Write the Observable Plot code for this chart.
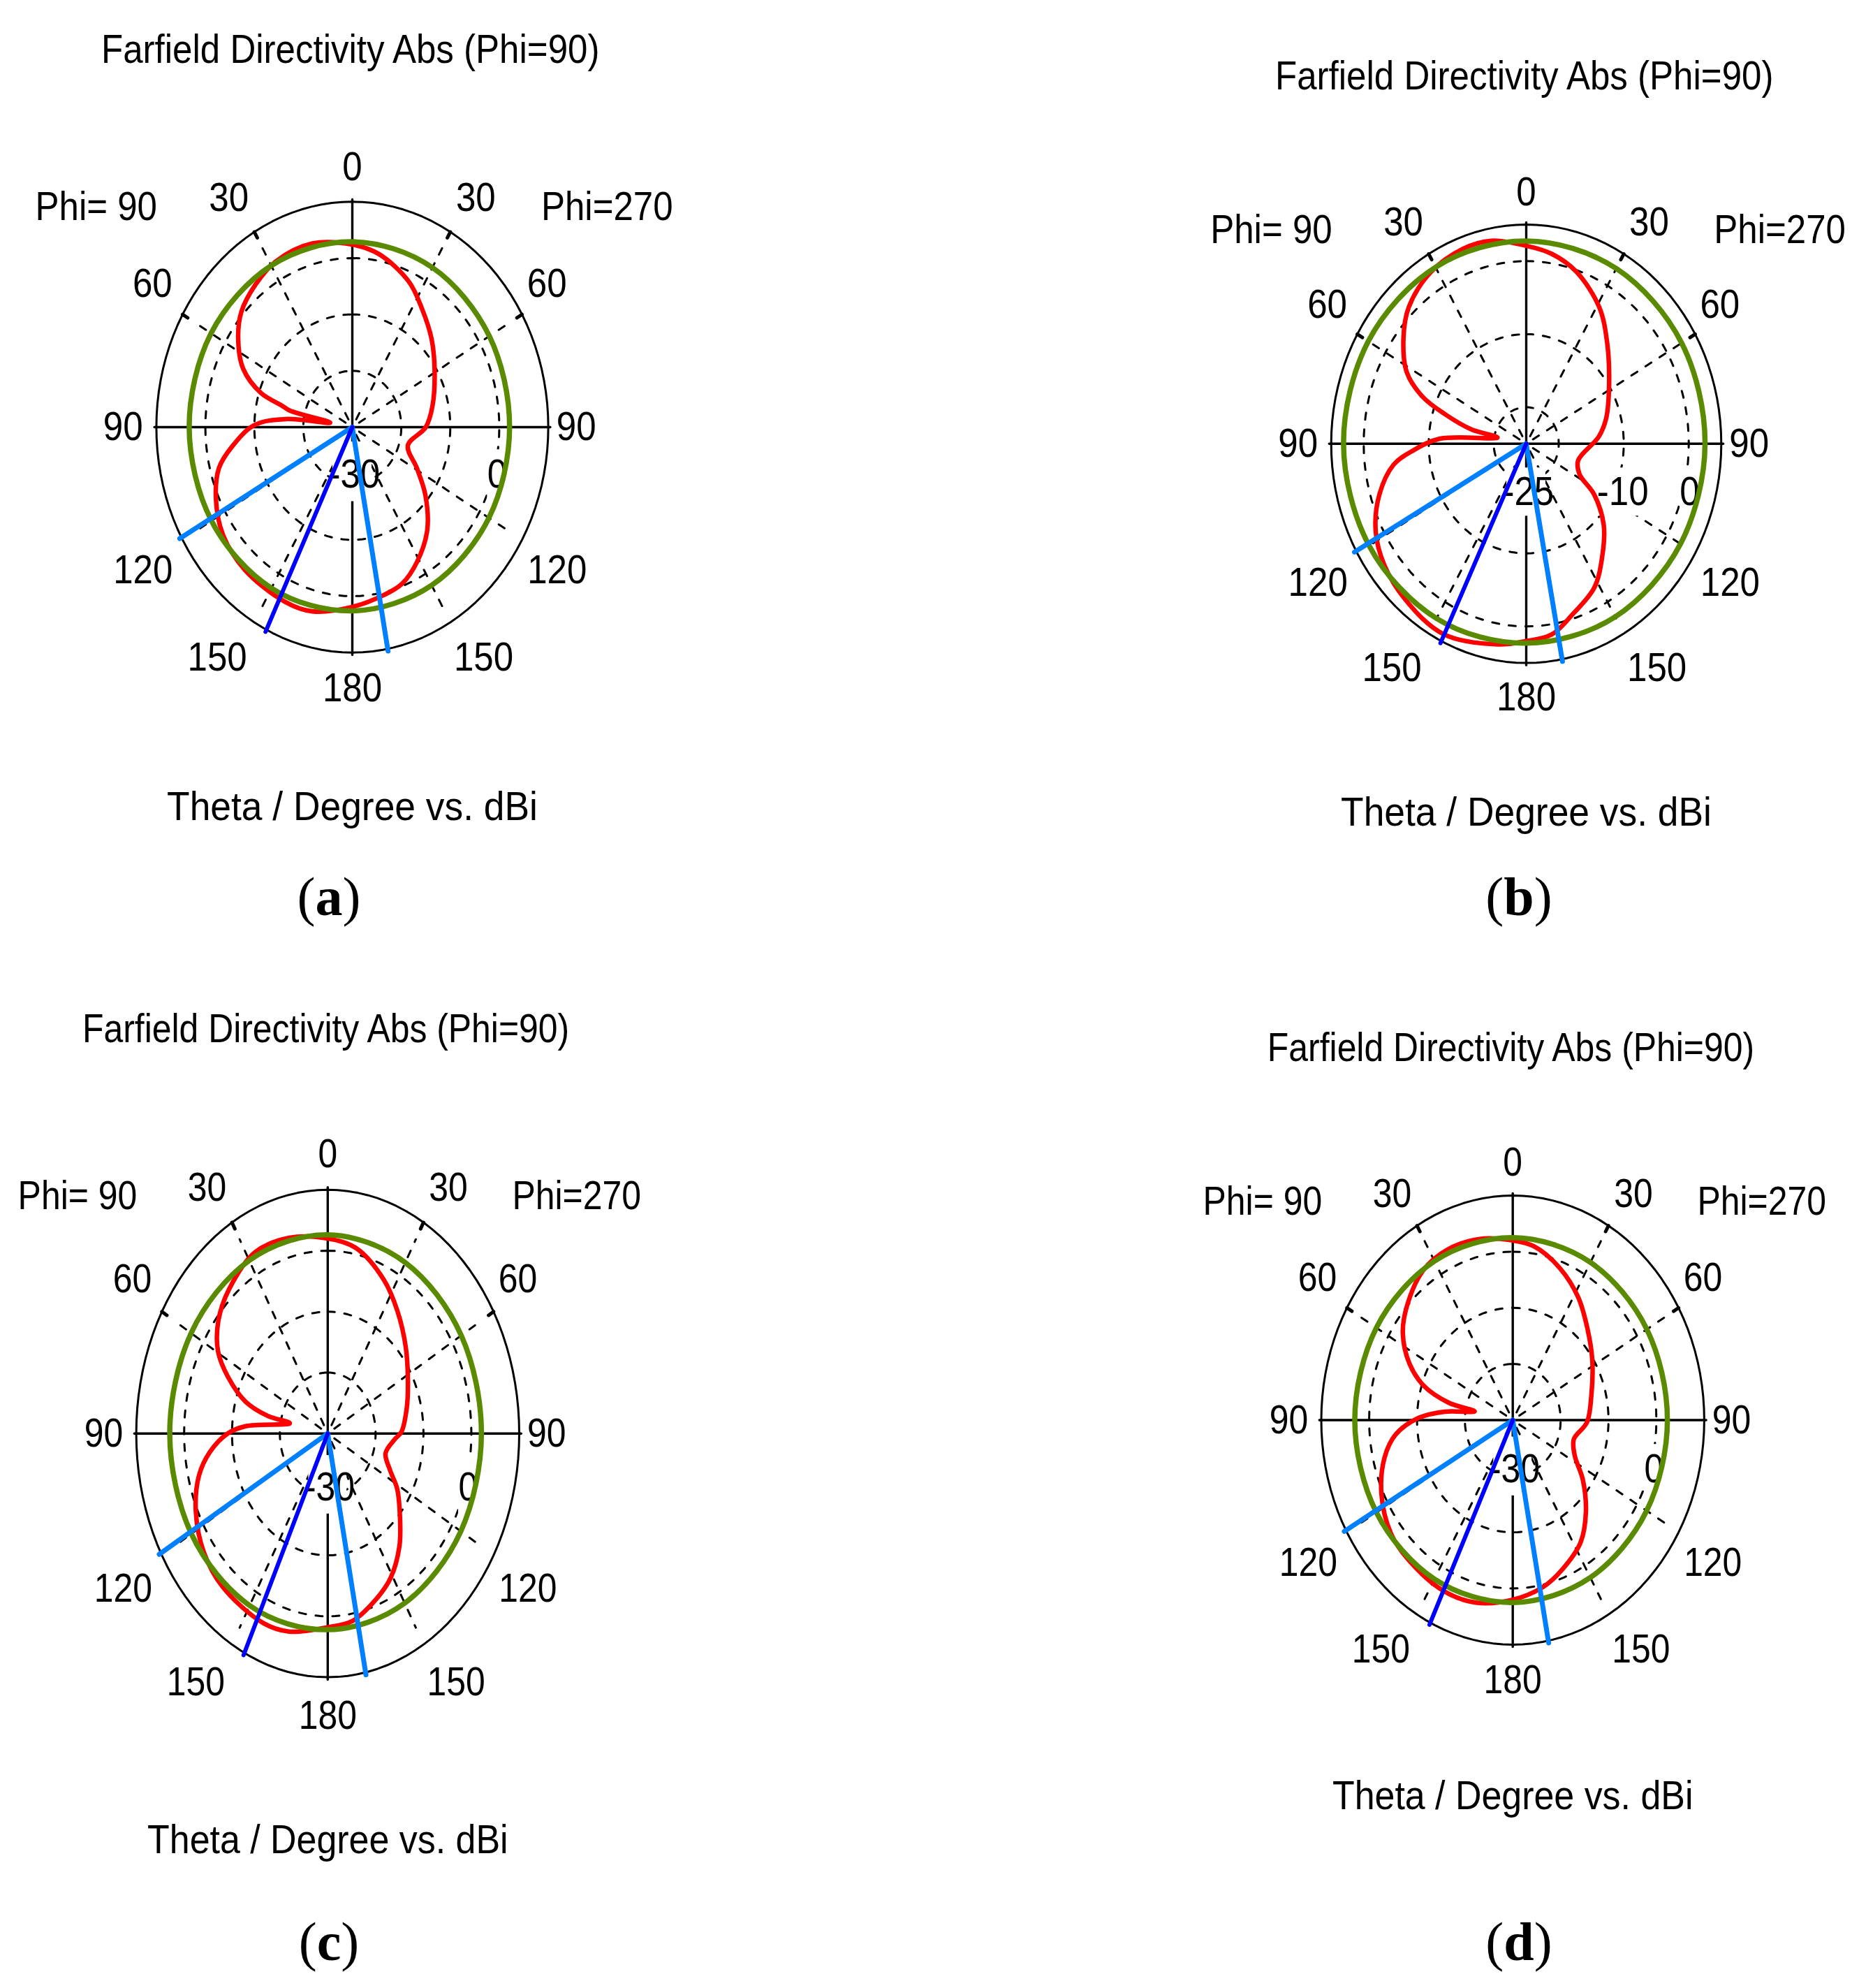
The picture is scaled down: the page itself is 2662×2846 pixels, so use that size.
<!DOCTYPE html>
<html>
<head>
<meta charset="utf-8">
<script src="https://cdn.jsdelivr.net/npm/d3@7"></script>
<script src="https://cdn.jsdelivr.net/npm/@observablehq/plot@0.6"></script>
<style>
html,body{margin:0;padding:0;background:#fff;}
#page{position:relative;width:2662px;height:2846px;overflow:hidden;background:#fff;}
.panel{position:absolute;}
.panel svg{display:block;background:transparent;overflow:visible;}
.cap{position:absolute;font-family:"Liberation Serif",serif;font-size:78px;line-height:84px;transform:translate(-50%,-50%);color:#000;}
</style>
</head>
<body>
<div id="page"></div>
<script>
// Theta runs clockwise from the top: 0-180 on the Phi=270 side, 180-360 on the Phi=90 side.
const thetaA = [0,10,24,34,46,59,77,90,106,119,129,140,151,160,168,180,194,204,221,234,245,255,262,271,276,280,283,285,288,295,304,312,322,332,346];
const dbA    = [2.4,1.2,-1.7,-4.6,-7.5,-10.4,-13.2,-15,-18.2,-14.9,-10.8,-6.2,-2.7,-0.4,0.5,1.9,3.7,3.9,3.5,2.6,0.7,-1.8,-5.2,-10,-16.3,-25.4,-16.9,-15,-10.4,-5.4,-1.9,0.5,2.1,3.3,3.6];
const thetaB = [0,8.5,18,31,42,57,74,85,106,117,123.5,133,143,152,163,171.5,180,189,206,221,233,243,253,262,267,273,281,283,288,292,298,307.5,316,328,340,349];
const dbB    = [2.1,1.3,-0.2,-3.2,-6.4,-9.8,-12.2,-13.8,-16.7,-15.8,-12.5,-8.7,-5.6,-2.7,-0.6,1.4,2,2.8,4,3.3,2.4,1,-1.4,-4.4,-7.6,-11.7,-20.5,-16.4,-11.8,-7.8,-4.2,-1.2,1,2.7,3.4,3.3];
const thetaC = [0,11,25,36,49,63,76,89,94,105,115,122,132,141,151,160,170.5,180,194,203.5,221,233,245,255.5,263,270,274,282,283,287,294,300.5,309,319,333,346];
const dbC    = [2,1,-2.2,-5.2,-8.4,-11.2,-13,-14.6,-16,-17.5,-15.6,-12.9,-9.7,-6.2,-2.9,-0.9,1.2,1.8,3.5,3.9,3.4,2.4,0.4,-2.2,-5.2,-9.1,-12.8,-21.9,-17.1,-12,-7.2,-3.4,-0.6,1.4,3.4,3.1];
const thetaD = [0,8,20,32,44,57,75,91.5,105,116,126,137,147,159,168,180,193,205,221,231.5,244.5,256,264,271,276,281,283,288,295,304,312.5,325,336,348];
const dbD    = [2,1.3,-1.2,-4.2,-7.5,-10.2,-13,-14.5,-16.8,-15.6,-11.9,-7.6,-4,-1.4,0.4,2,3.4,3.7,3.1,2.5,0.4,-2.4,-5.4,-10.2,-15.7,-21.9,-16.3,-10.6,-6.2,-2.3,0,2.6,3.3,3];

// Green reference trace, one value every 30 degrees.
const greenTheta = [0,30,60,90,120,150,180,210,240,270,300,330];
const greenA = [2.9,2.7,2.3,2.1,2.2,2.4,2.6,3.0,3.2,3.3,3.3,3.1];
const greenB = [2.75,2.7,2.6,2.5,2.4,2.35,2.3,2.6,2.9,3.1,3.05,2.9];
const greenC = [2.6,2.4,2.2,2.1,2.1,2.15,2.2,2.6,2.9,3.0,2.95,2.8];
const greenD = [2.5,2.45,2.35,2.3,2.3,2.4,2.5,2.7,2.9,3.0,2.9,2.7];

// Main lobe direction and 3 dB angular limits.
const beamsA = [206, 169.6, 240.7];
const beamsB = [205.8, 169.4, 240.7];
const beamsC = [205.8, 168.6, 240.6];
const beamsD = [205.5, 169.3, 240.6];

const ringsDb = [-20,-10,0];
const spokeAngles = [30,60,120,150,210,240,300,330];
const rimTickAngles = [30,60,300,330];

const titleText = "Farfield Directivity Abs (Phi=90)";
const axisText = "Theta / Degree vs. dBi";
const angleLabels = ["0","30","30","60","60","90","90","120","120","150","150","180"];
const sideLabels = ["Phi= 90","Phi=270"];

// Layout (page pixels) and radial range of each panel.
const W = 1331, H = 1423;
const panels = [
  {id:"a", left:0,    top:0,    cx:504,    cy:611,    rx:280.6, ry:322.7, dbMin:-30, dbMax:10, theta:thetaA, db:dbA, green:greenA, beams:beamsA, capX:471, capY:1284, titleY:1.675, axisY:-1.687, narrow:0.88, axisNarrow:0.92, topShift:0.004,
   scaleLabels:[{t:"-30",x:0.01,y:-0.21},{t:"0",x:0.739,y:-0.21}], gap:[-0.1,0.1,-0.065,-0.33]},
  {id:"b", left:1331, top:0,    cx:2185,   cy:634.8,  rx:279.3, ry:313.8, dbMin:-25, dbMax:5,  theta:thetaB, db:dbB, green:greenB, beams:beamsB, capX:2175, capY:1284, titleY:1.675, axisY:-1.682, narrow:0.88, axisNarrow:0.92, topShift:0.01,
   scaleLabels:[{t:"-25",x:0.01,y:-0.22},{t:"-10",x:0.495,y:-0.22},{t:"0",x:0.838,y:-0.22}], gap:[-0.1,0.1,-0.11,-0.33]},
  {id:"c", left:0,    top:1423, cx:468.8,  cy:2051.7, rx:274.2, ry:348.9, dbMin:-30, dbMax:10, theta:thetaC, db:dbC, green:greenC, beams:beamsC, capX:471, capY:2780, titleY:1.659, axisY:-1.67, narrow:0.86, axisNarrow:0.895, topShift:0.012,
   scaleLabels:[{t:"-30",x:0.01,y:-0.22},{t:"0",x:0.733,y:-0.22}], gap:[-0.1,0.1,-0.09,-0.33]},
  {id:"d", left:1331, top:1423, cx:2165.7, cy:2032.5, rx:274.2, ry:321.4, dbMin:-30, dbMax:10, theta:thetaD, db:dbD, green:greenD, beams:beamsD, capX:2175, capY:2780, titleY:1.658, axisY:-1.676, narrow:0.86, axisNarrow:0.895, topShift:0.012,
   scaleLabels:[{t:"-30",x:0.01,y:-0.218},{t:"0",x:0.737,y:-0.218}], gap:[-0.1,0.1,-0.075,-0.337]}
];

const labelX = [0,-0.63,0.63,-1.02,0.993,-1.17,1.143,-1.068,1.045,-0.689,0.67,0];
const labelY = [1.158,1.02,1.02,0.634,0.634,0,0,-0.636,-0.636,-1.022,-1.022,-1.158];

const rad = d => d * Math.PI / 180;
const FONT = '"Liberation Sans",sans-serif';
const FS = 58;

const page = document.getElementById("page");
for (const p of panels) {
  const norm = db => (db - p.dbMin) / (p.dbMax - p.dbMin);
  const toXY = (theta, db) => {
    const r = norm(db);
    return {x: r * Math.sin(rad(theta)), y: r * Math.cos(rad(theta))};
  };
  const cxLocal = p.cx - p.left, cyLocal = p.cy - p.top;

  const red = p.theta.map((t, i) => toXY(t, p.db[i]));
  const green = greenTheta.map((t, i) => toXY(t, p.green[i]));
  const outer = d3.range(0, 361, 3).map(t => toXY(t, p.dbMax));
  const rings = ringsDb.map(db => d3.range(0, 361, 3).map(t => ({...toXY(t, db), db})));
  const polar = (a, r) => ({a, x: r*Math.sin(rad(a)), y: r*Math.cos(rad(a))});
  const spokes = spokeAngles.flatMap(a => [polar(a, 0.04), polar(a, 0.92)]);
  const rimTicks = rimTickAngles.flatMap(a => [polar(a, 0.97), polar(a, 1)]);
  const beam = a => [polar(a, 0), polar(a, 1.01)];
  const scaleGaps = p.scaleLabels.slice(1).map(l => ({x1:l.x-0.05-(l.t.length-1)*0.07,x2:l.x+0.05+(l.t.length-1)*0.07,y1:l.y-0.11,y2:l.y+0.11}));

  const chart = Plot.plot({
    width: W, height: H, margin: 0,
    style: {fontFamily: FONT, background: "transparent"},
    x: {domain: [-cxLocal/p.rx, (W-cxLocal)/p.rx], range: [0, W], axis: null},
    y: {domain: [cyLocal/p.ry, (cyLocal-H)/p.ry], range: [0, H], axis: null},
    marks: [
      // dashed grid
      ...rings.map(r => Plot.line(r, {x:"x", y:"y", stroke:"#000", strokeWidth:3, strokeDasharray:"10,14"})),
      Plot.line(spokes, {x:"x", y:"y", z:"a", stroke:"#000", strokeWidth:3, strokeDasharray:"10,14"}),
      // solid frame and axes
      Plot.line(outer, {x:"x", y:"y", stroke:"#000", strokeWidth:3}),
      Plot.line(rimTicks, {x:"x", y:"y", z:"a", stroke:"#000", strokeWidth:5}),
      Plot.line([{x:-1.01,y:0},{x:1.01,y:0}], {x:"x", y:"y", stroke:"#000", strokeWidth:3.4}),
      Plot.line([{x:0,y:1.01},{x:0,y:-1.01}], {x:"x", y:"y", stroke:"#000", strokeWidth:3.4}),
      // white boxes behind the scale labels
      Plot.rect([{x1:p.gap[0],x2:p.gap[1],y1:p.gap[2],y2:p.gap[3]}], {x1:"x1",x2:"x2",y1:"y1",y2:"y2",fill:"#fff"}),
      Plot.rect(scaleGaps, {x1:"x1",x2:"x2",y1:"y1",y2:"y2",fill:"#fff"}),
      // labels
      Plot.text([titleText], {x:()=>-0.01, y:()=>p.titleY, text:d=>d, fontSize:FS, fill:"#000"}),
      Plot.text([axisText], {x:()=>0, y:()=>p.axisY, text:d=>d, fontSize:FS, fill:"#000"}),
      Plot.text(angleLabels, {x:(d,i)=>labelX[i], y:(d,i)=>labelY[i]-(i<3?p.topShift:0), text:d=>d, fontSize:FS, fill:"#000"}),
      Plot.text(sideLabels, {x:(d,i)=>i?1.3:-1.307, y:()=>0.98-p.topShift*0.6, text:d=>d, fontSize:FS, fill:"#000"}),
      Plot.text(p.scaleLabels, {x:"x", y:"y", text:"t", fontSize:FS, fill:"#000"}),
      // traces
      Plot.line(red, {x:"x", y:"y", curve:"catmull-rom-closed", stroke:"#ff0000", strokeWidth:6.5, strokeLinejoin:"round"}),
      Plot.line(green, {x:"x", y:"y", curve:"cardinal-closed", stroke:"#5a8a00", strokeWidth:7.5}),
      Plot.line(beam(p.beams[1]), {x:"x", y:"y", stroke:"#0080ff", strokeWidth:7}),
      Plot.line(beam(p.beams[2]), {x:"x", y:"y", stroke:"#0080ff", strokeWidth:7}),
      Plot.line(beam(p.beams[0]), {x:"x", y:"y", stroke:"#0000ff", strokeWidth:6})
    ]
  });
  const box = document.createElement("div");
  box.className = "panel";
  box.style.left = p.left + "px";
  box.style.top = p.top + "px";
  box.appendChild(chart);
  page.appendChild(box);

  // The original's type is tall and narrow: condense each label to the measured width ratio.
  chart.querySelectorAll("text").forEach(t => {
    const k = t.textContent === axisText ? p.axisNarrow : p.narrow;
    t.setAttribute("textLength", (t.getComputedTextLength() * k).toFixed(1));
    t.setAttribute("lengthAdjust", "spacingAndGlyphs");
  });

  const cap = document.createElement("div");
  cap.className = "cap";
  cap.style.left = p.capX + "px";
  cap.style.top = p.capY + "px";
  cap.innerHTML = "(<b>" + p.id + "</b>)";
  page.appendChild(cap);
}
</script>
</body>
</html>
